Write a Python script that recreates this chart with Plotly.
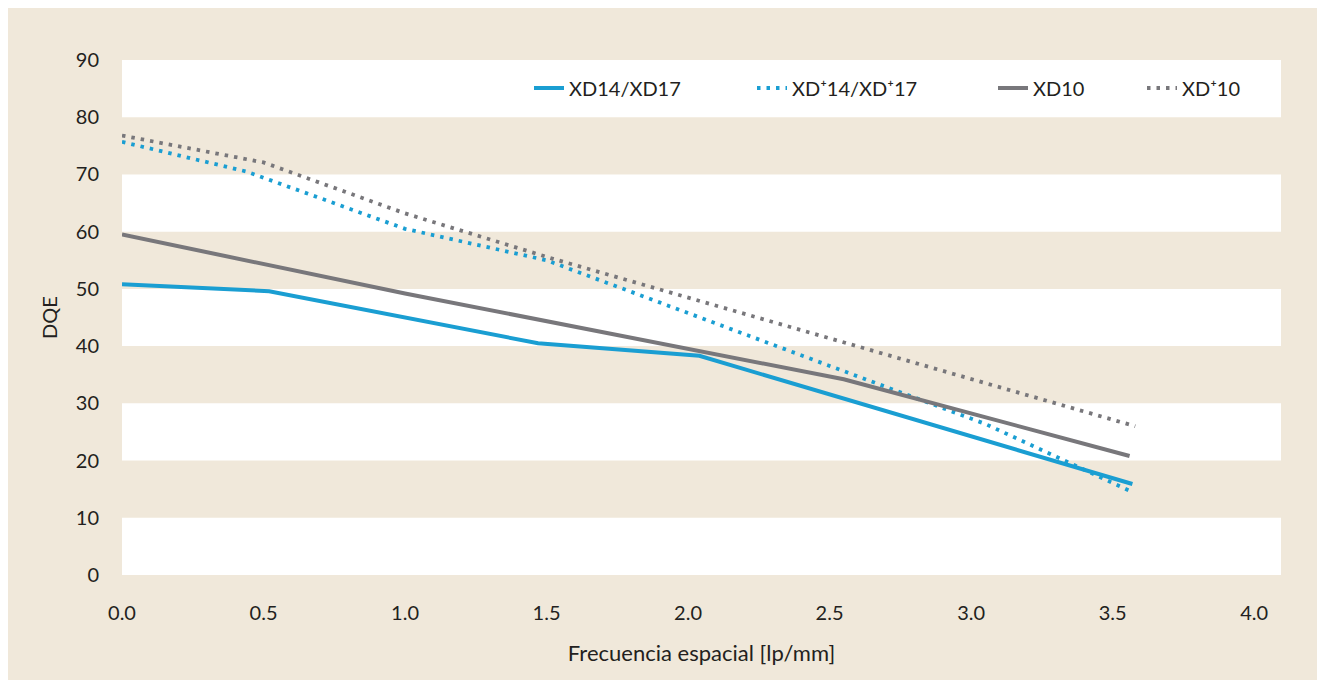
import plotly.graph_objects as go

# ---- data ----
x_xd14 = [0.0, 0.52, 1.47, 2.04, 3.57]
y_xd14 = [50.8, 49.6, 40.5, 38.3, 15.9]

x_xdp14 = [0.0, 0.44, 1.0, 1.5, 3.05, 3.57]
y_xdp14 = [75.7, 70.5, 60.5, 55.0, 26.4, 14.5]

x_xd10 = [0.0, 1.0, 2.55, 3.56]
y_xd10 = [59.5, 49.2, 34.2, 20.8]

x_xdp10 = [0.0, 0.5, 1.0, 1.52, 3.58]
y_xdp10 = [76.8, 72.1, 63.2, 55.3, 26.0]

names = ["XD14/XD17", "XD⁺14/XD⁺17", "XD10", "XD⁺10"]
y_ticks = [0, 10, 20, 30, 40, 50, 60, 70, 80, 90]
x_ticks = [0.0, 0.5, 1.0, 1.5, 2.0, 2.5, 3.0, 3.5, 4.0]
x_tick_text = ["0.0", "0.5", "1.0", "1.5", "2.0", "2.5", "3.0", "3.5", "4.0"]

BLUE = "#1a9ed2"
GRAY = "#78777b"
BEIGE = "#f0e8da"
TEXT = "#231f20"
FONT = "Lato"

fig = go.Figure()
series = [
    (x_xd14, y_xd14, BLUE, "solid", "legend"),
    (x_xdp14, y_xdp14, BLUE, "3.5px,6px", "legend2"),
    (x_xd10, y_xd10, GRAY, "solid", "legend3"),
    (x_xdp10, y_xdp10, GRAY, "3.5px,6px", "legend4"),
]
for (xs, ys, col, dash, lg), nm in zip(series, names):
    fig.add_trace(go.Scatter(
        x=xs, y=ys, mode="lines", name=nm,
        line=dict(color=col, width=4 if dash == "solid" else 3.8, dash=dash),
        legend=lg,
    ))

# alternating white bands
for lo in range(0, 90, 20):
    fig.add_shape(type="rect", xref="paper", yref="y", x0=0, x1=1, y0=lo, y1=lo + 10,
                  fillcolor="white", line_width=0, layer="below")

W, H = 1317, 672
ml, mr, mt, mb = 114, 44, 52, 105
pw = W - ml - mr
ph = H - mt - mb

def lx(px):
    return (px - 8 - ml) / pw

def ly(py):
    return 1 - (py - 8 - mt) / ph

leg_common = dict(orientation="h", bgcolor="rgba(0,0,0,0)", borderwidth=0,
                  font=dict(family=FONT, size=20, color=TEXT), yanchor="middle",
                  itemclick=False, itemdoubleclick=False)
starts = [529, 752, 993, 1142]
legends = {}
for i, s in enumerate(starts):
    key = "legend" if i == 0 else f"legend{i+1}"
    legends[key] = dict(leg_common, x=lx(s), xanchor="left", y=ly(88))

fig.update_layout(
    width=W, height=H,
    margin=dict(l=ml, r=mr, t=mt, b=mb),
    paper_bgcolor=BEIGE, plot_bgcolor=BEIGE,
    font=dict(family=FONT, color=TEXT),
    showlegend=True,
    **legends,
)
fig.update_xaxes(
    range=[0, 4.095], tickvals=x_ticks, ticktext=x_tick_text,
    showgrid=False, zeroline=False, showline=False,
    ticks="outside", ticklen=20, tickcolor="rgba(0,0,0,0)",
    tickfont=dict(family=FONT, size=20, color=TEXT),
    title=dict(text="Frecuencia espacial [lp/mm]", standoff=22,
               font=dict(family=FONT, size=22, color=TEXT)),
)
fig.update_yaxes(
    range=[0, 90], tickvals=y_ticks,
    showgrid=False, zeroline=False, showline=False,
    ticks="outside", ticklen=18, tickcolor="rgba(0,0,0,0)",
    tickfont=dict(family=FONT, size=20, color=TEXT),
    title=dict(text="DQE", standoff=12,
               font=dict(family=FONT, size=20, color=TEXT)),
)

fig.write_html("out.html")
